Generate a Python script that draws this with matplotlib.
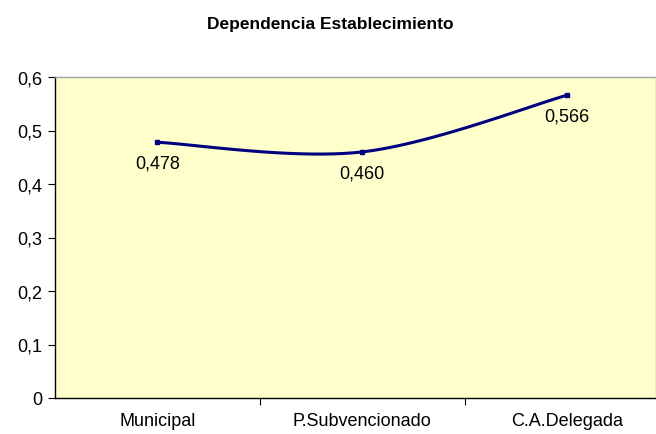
import numpy as np
import matplotlib
matplotlib.use("Agg")
import matplotlib.pyplot as plt

categories = ["Municipal", "P.Subvencionado", "C.A.Delegada"]
values = [0.478, 0.460, 0.566]
labels = ["0,478", "0,460", "0,566"]
yticks = [0, 0.1, 0.2, 0.3, 0.4, 0.5, 0.6]
ytick_labels = ["0", "0,1", "0,2", "0,3", "0,4", "0,5", "0,6"]
title = "Dependencia Establecimiento"

plt.rcParams['font.family'] = ['Liberation Sans', 'DejaVu Sans']

W, H = 656, 435
fig = plt.figure(figsize=(W / 100, H / 100), dpi=100)
left, right, top, bottom = 55, 656, 78, 399
ax = fig.add_axes([left / W, 1 - bottom / H, (right - left) / W, (bottom - top) / H])
ax.set_facecolor("#FFFFCC")

x = np.arange(len(values), dtype=float)
y = np.array(values, dtype=float)

# Excel-like smoothed line (Catmull-Rom style Bezier)
def smooth(xs, ys, n=60):
    px, py = [], []
    N = len(xs)
    for i in range(N - 1):
        p0 = (xs[i], ys[i])
        p3 = (xs[i + 1], ys[i + 1])
        pm = (xs[i - 1], ys[i - 1]) if i > 0 else p0
        pn = (xs[i + 2], ys[i + 2]) if i + 2 < N else p3
        c1 = (p0[0] + (p3[0] - pm[0]) / 6, p0[1] + (p3[1] - pm[1]) / 6)
        c2 = (p3[0] - (pn[0] - p0[0]) / 6, p3[1] - (pn[1] - p0[1]) / 6)
        t = np.linspace(0, 1, n)
        bx = (1 - t) ** 3 * p0[0] + 3 * (1 - t) ** 2 * t * c1[0] + 3 * (1 - t) * t ** 2 * c2[0] + t ** 3 * p3[0]
        by = (1 - t) ** 3 * p0[1] + 3 * (1 - t) ** 2 * t * c1[1] + 3 * (1 - t) * t ** 2 * c2[1] + t ** 3 * p3[1]
        px.extend(bx)
        py.extend(by)
    return np.array(px), np.array(py)

sx, sy = smooth(x, y)
ax.plot(sx, sy, color="#000080", lw=2.2, solid_capstyle="round", zorder=3)
ax.plot(x, y, ls="none", marker="s", ms=3.5, color="#000080", zorder=4)

for xi, yi, lab in zip(x, y, labels):
    ax.annotate(lab, (xi, yi), xytext=(0, -21), textcoords="offset pixels",
                ha="center", va="center", fontsize=13, color="black")

ax.set_xlim(-0.5, 2.434)
ax.set_ylim(0, 0.6)
ax.set_yticks(yticks)
ax.set_yticklabels(ytick_labels, fontsize=13)
ax.set_xticks([0.5, 1.5], minor=False)
ax.set_xticklabels([])
ax.set_xticks(x, minor=True)
ax.set_xticklabels(categories, minor=True, fontsize=13)
ax.tick_params(axis="x", which="minor", length=0, pad=10)
ax.tick_params(axis="x", which="major", length=5, direction="out", color="black")
ax.tick_params(axis="y", length=5, direction="out", color="black", pad=4)

ax.spines["left"].set_color("black")
ax.spines["bottom"].set_color("black")
ax.spines["top"].set_color("#A0A0A0")
ax.spines["right"].set_color("#A0A0A0")
for s in ax.spines.values():
    s.set_linewidth(1)

fig.text(330 / W, 1 - 25 / H, title, ha="center", va="center", fontsize=12.5, fontweight="bold")

fig.savefig("out.png", dpi=100)
